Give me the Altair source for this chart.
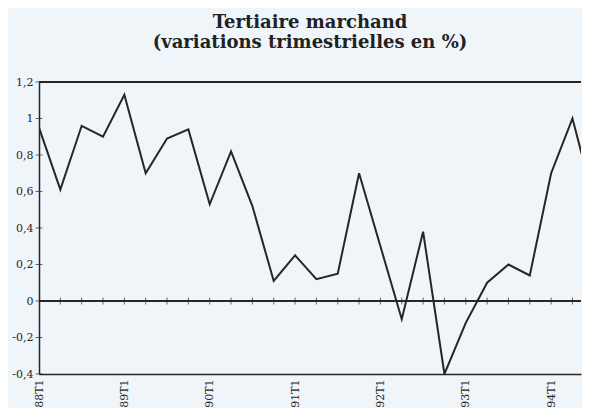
import json
import altair as alt
import pandas as pd

# Quarters shown (the picture is cropped on the right, the last point lies just outside)
quarters = ["88T1", "88T2", "88T3", "88T4",
            "89T1", "89T2", "89T3", "89T4",
            "90T1", "90T2", "90T3", "90T4",
            "91T1", "91T2", "91T3", "91T4",
            "92T1", "92T2", "92T3", "92T4",
            "93T1", "93T2", "93T3", "93T4",
            "94T1", "94T2", "94T3"]
values = [0.95, 0.61, 0.96, 0.90,
          1.13, 0.70, 0.89, 0.94,
          0.53, 0.82, 0.52, 0.11,
          0.25, 0.12, 0.15, 0.70,
          0.30, -0.10, 0.38, -0.40,
          -0.12, 0.10, 0.20, 0.14,
          0.70, 1.00, 0.55]
x_labels = ["88T1", "89T1", "90T1", "91T1", "92T1", "93T1", "94T1"]
y_ticks = [-0.4, -0.2, 0, 0.2, 0.4, 0.6, 0.8, 1, 1.2]

df = pd.DataFrame({"idx": list(range(len(quarters))), "q": quarters, "v": values})
tick_df = pd.DataFrame({"idx": list(range(1, len(quarters))), "v": [0] * (len(quarters) - 1)})
ytick_df = pd.DataFrame({"idx": [0] * len(y_ticks), "v": y_ticks})

x_scale = alt.Scale(domain=[0, 25.4], nice=False, zero=False)
y_scale = alt.Scale(domain=[-0.4, 1.2], nice=False, zero=False)

ink = "#262626"
serif = "DejaVu Serif"

x_axis = alt.Axis(values=[quarters.index(t) for t in x_labels],
                  labelExpr=json.dumps(quarters) + "[datum.value]",
                  labelAngle=270, labelFont=serif, labelFontSize=11, labelColor=ink,
                  labelPadding=5, labelFlush=False, labelOverlap=False,
                  ticks=False, domainColor=ink, domainWidth=1.5,
                  grid=False, title=None)
y_axis = alt.Axis(values=y_ticks,
                  labelExpr="replace(toString(datum.value), '.', ',')",
                  labelFont=serif, labelFontSize=11, labelColor=ink, labelPadding=6,
                  labelFlush=False, labelOverlap=False,
                  ticks=False, domainColor=ink, domainWidth=1.5, grid=False, title=None)

X = alt.X("idx:Q", scale=x_scale, axis=x_axis)
Y = alt.Y("v:Q", scale=y_scale, axis=y_axis)

line = alt.Chart(df).mark_line(clip=True, color=ink, strokeWidth=2).encode(x=X, y=Y)

zero = alt.Chart(df).mark_rule(color=ink, strokeWidth=1).encode(
    y=alt.Y(datum=0, type="quantitative", scale=y_scale, axis=y_axis))
top = alt.Chart(df).mark_rule(color=ink, strokeWidth=1.5).encode(
    y=alt.Y(datum=1.2, type="quantitative", scale=y_scale, axis=y_axis))

zticks = alt.Chart(tick_df).mark_tick(orient="vertical", size=7, thickness=1, color=ink, clip=True).encode(x=X, y=Y)
yticks = alt.Chart(ytick_df).mark_tick(orient="horizontal", size=7, thickness=1, color=ink).encode(x=X, y=Y)

chart = alt.layer(line, zero, zticks, yticks, top).properties(
    width=542, height=292,
    padding={"left": 3, "top": 6, "right": 0, "bottom": 0},
    title=alt.TitleParams(["Tertiaire marchand", "(variations trimestrielles en %)"],
                          font=serif, fontSize=18, fontWeight="bold", color="#222222",
                          lineHeight=20, anchor="middle", offset=24),
    background="#f0f5fa",
).configure_view(stroke=None)

chart.save("out.html", embed_options={"renderer": "svg", "actions": False})
